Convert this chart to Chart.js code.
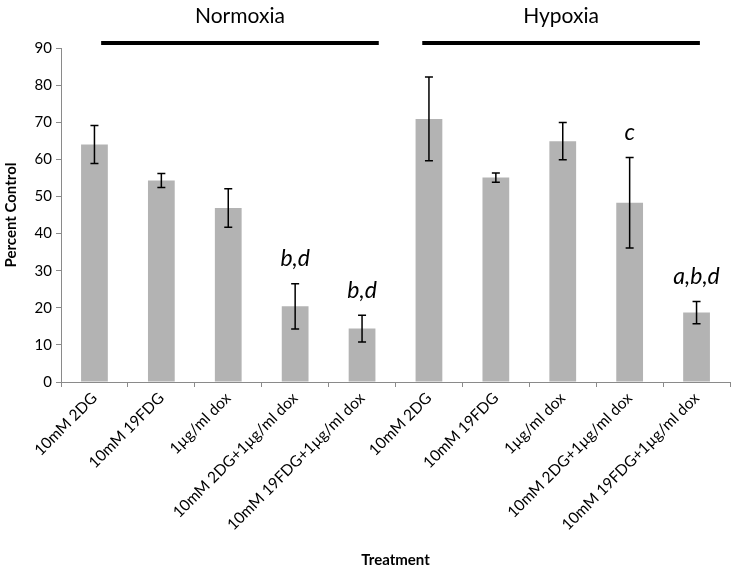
<!DOCTYPE html>
<html>
<head>
<meta charset="utf-8">
<script src="https://cdn.jsdelivr.net/npm/chart.js@4.4.0/dist/chart.umd.min.js"></script>
<style>
  html, body { margin: 0; padding: 0; background: #fff; }
  #wrap { width: 735px; height: 575px; position: relative; }
</style>
</head>
<body>
<div id="wrap"><canvas id="chart"></canvas></div>
<script>
// datos
const categorias = [
    '10mM 2DG', '10mM 19FDG', '1\u00b5g/ml dox', '10mM 2DG+1\u00b5g/ml dox', '10mM 19FDG+1\u00b5g/ml dox',
    '10mM 2DG', '10mM 19FDG', '1\u00b5g/ml dox', '10mM 2DG+1\u00b5g/ml dox', '10mM 19FDG+1\u00b5g/ml dox'
];
const valores = [64.0, 54.3, 46.9, 20.4, 14.4, 70.9, 55.1, 64.9, 48.3, 18.7];
const errores = [5.1, 1.9, 5.2, 6.1, 3.6, 11.3, 1.25, 5.0, 12.2, 3.0];
const letras = ['', '', '', 'b,d', 'b,d', '', '', '', 'c', 'a,b,d'];
const grupos = ['Normoxia', 'Hypoxia'];
// inicio y fin de cada barra de grupo, en unidades de categoria
const gruposDesde = [0.1, 4.9];
const gruposHasta = [4.25, 9.05];

const fuente = 'Lato, "Open Sans", sans-serif';

// barras de error y letras de significancia
const erroresPlugin = {
    id: 'errores',
    afterDatasetsDraw(chart) {
        const ctx = chart.ctx;
        const y = chart.scales.y;
        const meta = chart.getDatasetMeta(0);
        ctx.save();
        ctx.strokeStyle = '#000';
        ctx.lineWidth = 1.5;
        meta.data.forEach((bar, i) => {
            const top = y.getPixelForValue(valores[i] + errores[i]);
            const bot = y.getPixelForValue(valores[i] - errores[i]);
            ctx.beginPath();
            ctx.moveTo(bar.x, top); ctx.lineTo(bar.x, bot);
            ctx.moveTo(bar.x - 4, top); ctx.lineTo(bar.x + 4, top);
            ctx.moveTo(bar.x - 4, bot); ctx.lineTo(bar.x + 4, bot);
            ctx.stroke();
            if (letras[i]) {
                ctx.fillStyle = '#000';
                ctx.font = 'italic 23px ' + fuente;
                ctx.textAlign = 'center';
                ctx.textBaseline = 'middle';
                ctx.fillText(letras[i], bar.x, top - 25);
            }
        });
        ctx.restore();
    }
};

// encabezados Normoxia / Hypoxia con su linea
const gruposPlugin = {
    id: 'grupos',
    afterDraw(chart) {
        const ctx = chart.ctx;
        const x = chart.scales.x;
        ctx.save();
        grupos.forEach((g, i) => {
            const x1 = x.getPixelForValue(gruposDesde[i]);
            const x2 = x.getPixelForValue(gruposHasta[i]);
            ctx.strokeStyle = '#000';
            ctx.lineWidth = 4;
            ctx.beginPath();
            ctx.moveTo(x1, 43); ctx.lineTo(x2, 43);
            ctx.stroke();
            ctx.fillStyle = '#000';
            ctx.font = '21px ' + fuente;
            ctx.textAlign = 'center';
            ctx.textBaseline = 'middle';
            ctx.fillText(g, (x1 + x2) / 2, 16);
        });
        ctx.restore();
    }
};

new Chart(document.getElementById('chart'), {
    type: 'bar',
    data: {
        labels: categorias,
        datasets: [{
            data: valores,
            backgroundColor: 'rgb(179,179,179)',
            borderWidth: 0,
            categoryPercentage: 0.8,
            barPercentage: 0.5
        }]
    },
    options: {
        responsive: true,
        maintainAspectRatio: false,
        animation: false,
        layout: { padding: { top: 48, right: 5, left: 0, bottom: 6 } },
        plugins: {
            legend: { display: false },
            tooltip: { enabled: false }
        },
        scales: {
            y: {
                min: 0,
                max: 90,
                ticks: { stepSize: 10, color: '#000', font: { family: fuente, size: 15 }, padding: 4 },
                grid: { display: true, drawOnChartArea: false, drawTicks: true, tickLength: 5, color: '#8a8a8a' },
                border: { color: '#8a8a8a', width: 1 },
                title: { display: true, text: 'Percent Control', color: '#000', font: { family: fuente, size: 15, weight: 'bold' }, padding: 2 },
                afterFit(scale) { scale.width = 61; }
            },
            x: {
                ticks: { color: '#000', font: { family: fuente, size: 15.5 }, maxRotation: 45, minRotation: 45, padding: 2 },
                grid: { display: true, drawOnChartArea: false, drawTicks: true, tickLength: 5, color: '#8a8a8a' },
                border: { color: '#8a8a8a', width: 1 },
                title: { display: true, text: 'Treatment', color: '#000', font: { family: fuente, size: 15, weight: 'bold' }, padding: 0 },
                afterFit(scale) { scale.height = 187; }
            }
        }
    },
    plugins: [erroresPlugin, gruposPlugin]
});
</script>
</body>
</html>
